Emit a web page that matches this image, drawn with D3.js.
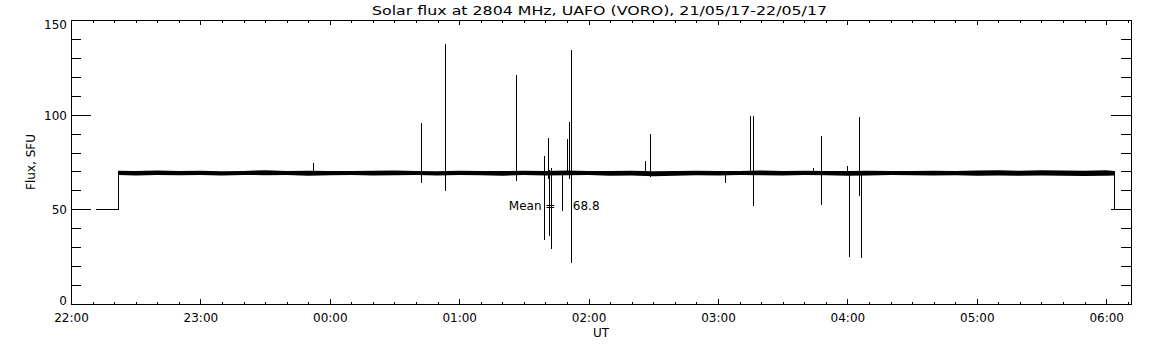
<!DOCTYPE html>
<html>
<head>
<meta charset="utf-8">
<script src="https://cdn.jsdelivr.net/npm/d3@7/dist/d3.min.js"></script>
<style>
  body { margin: 0; background: #fff; }
  text { font-family: "DejaVu Sans", sans-serif; fill: #000; }
</style>
</head>
<body>
<div id="chart"></div>
<script>
// readings of the 2804 MHz radiometer, times in UT
const titleText = "Solar flux at 2804 MHz, UAFO (VORO),  21/05/17-22/05/17";
const meanValue = 68.8;
const yTickLabels = [0, 50, 100, 150];

// receiver parked at 50 SFU before and after the session
const offLevel = 50;
const offPeriods = [["22:11:00", "22:21:50"], ["06:03:40", "06:11:30"]];

// quiet-sun band (upper / lower edge), sampled every 10 min
const bandHi = [70.4, 70.2, 70.5, 70.3, 70.4, 70.1, 70.3, 70.6, 70.2, 70.4,
                70.3, 70.2, 70.4, 70.5, 70.3, 70.1, 70.4, 70.3, 70.2, 70.4,
                70.3, 70.5, 70.2, 70.3, 70.4, 70.1, 70.3, 70.4, 70.2, 70.3,
                70.5, 70.3, 70.4, 70.2, 70.3, 70.4, 70.3, 70.2, 70.4, 70.3,
                70.5, 70.6, 70.4, 70.7, 70.5, 70.4, 70.6, 70.3];
const bandLo = [68.1, 67.9, 68.2, 68.0, 68.1, 67.9, 68.2, 68.0, 68.1, 67.8,
                68.0, 68.1, 67.9, 68.0, 68.2, 67.9, 68.1, 68.0, 67.8, 68.1,
                67.9, 68.0, 68.1, 67.7, 67.9, 67.5, 67.8, 68.0, 67.9, 68.1,
                68.0, 67.9, 68.1, 68.0, 67.8, 67.9, 68.1, 68.0, 67.9, 68.0,
                67.8, 67.9, 67.7, 67.9, 67.8, 67.6, 67.8, 67.9];

// spikes: time, lowest and highest reading
const spikeTimes = ["23:52:10", "00:42:20", "00:53:25", "01:26:20", "01:39:20",
                    "01:41:10", "01:41:40", "01:42:40", "01:47:40", "01:50:00",
                    "01:50:55", "01:51:50", "02:26:05", "02:28:30", "03:03:10",
                    "03:14:50", "03:16:00", "03:44:00", "03:47:50", "03:59:50",
                    "04:00:40", "04:05:35", "04:06:05"];
const spikeLo = [68, 64, 59.5, 65, 34, 66, 36, 29, 49, 68,
                 66, 21.5, 68, 67, 64, 68, 52, 68, 52.5, 68,
                 25, 57, 24.5];
const spikeHi = [74.7, 95.8, 137.5, 121, 78, 87.5, 71, 72, 70, 87,
                 96, 134, 75.5, 90, 70, 99.5, 99.5, 72, 88.5, 73,
                 70, 99, 70];

function t(s) {
    const h = +s.slice(0, 2);
    const day = h >= 12 ? "2017-05-21" : "2017-05-22";
    return new Date(day + "T" + s + "Z");
}

const width = 1152, height = 345;
const margin = {top: 20, right: 21, bottom: 41, left: 71};

const svg = d3.select("#chart").append("svg")
    .attr("width", width)
    .attr("height", height);

const x = d3.scaleUtc()
    .domain([t("22:00:00"), t("06:11:30")])
    .range([margin.left, width - margin.right]);

const y = d3.scaleLinear()
    .domain([0, 150])
    .range([height - margin.bottom, margin.top]);

const px = v => Math.round(v) + 0.5;

// band times: start of signal, every 10 min, end of signal
const bandTimes = [t(offPeriods[0][1])]
    .concat(d3.utcMinute.every(10).range(t("22:30:00"), t("06:00:01")))
    .concat([t(offPeriods[1][0])]);
const band = bandTimes.map((d, i) => ({time: d, hi: bandHi[i], lo: bandLo[i]}));

const plot = svg.append("g").attr("shape-rendering", "crispEdges");

// parked level segments and the steps into the band
offPeriods.forEach(p => {
    plot.append("line")
        .attr("x1", px(x(t(p[0])))).attr("x2", px(x(t(p[1]))))
        .attr("y1", px(y(offLevel))).attr("y2", px(y(offLevel)))
        .attr("stroke", "#000");
});
[band[0], band[band.length - 1]].forEach(d => {
    plot.append("line")
        .attr("x1", px(x(d.time))).attr("x2", px(x(d.time)))
        .attr("y1", px(y(offLevel))).attr("y2", y(d.hi))
        .attr("stroke", "#000");
});

svg.append("path")
    .datum(band)
    .attr("fill", "#000")
    .attr("d", d3.area()
        .x(d => x(d.time))
        .y0(d => y(d.lo))
        .y1(d => y(d.hi)));

plot.selectAll("line.spike")
    .data(spikeTimes.map((s, i) => ({time: t(s), lo: spikeLo[i], hi: spikeHi[i]})))
    .join("line")
    .attr("class", "spike")
    .attr("x1", d => px(x(d.time)))
    .attr("x2", d => px(x(d.time)))
    .attr("y1", d => y(d.lo))
    .attr("y2", d => y(d.hi))
    .attr("stroke", "#000");

// axes, all ticks pointing inward
const innerW = width - margin.left - margin.right;
const innerH = height - margin.top - margin.bottom;

function styleAxis(g) {
    g.select(".domain").remove();
    g.attr("shape-rendering", "crispEdges");
    g.selectAll(".tick line").attr("stroke", "#000");
    g.selectAll("text").style("font-family", "'DejaVu Sans', sans-serif").style("font-size", "12px");
}

const hours = d3.utcHour.every(1);
const tenMin = d3.utcMinute.every(10);

svg.append("g")
    .attr("transform", `translate(0,${height - margin.bottom})`)
    .call(d3.axisBottom(x).ticks(tenMin).tickSize(-2.5).tickFormat(""))
    .call(styleAxis);
svg.append("g")
    .attr("transform", `translate(0,${height - margin.bottom})`)
    .call(d3.axisBottom(x).ticks(hours).tickSize(-5).tickPadding(9).tickFormat(d3.utcFormat("%H:%M")))
    .call(styleAxis);
svg.append("g")
    .attr("transform", `translate(0,${margin.top})`)
    .call(d3.axisTop(x).ticks(tenMin).tickSize(-2.5).tickFormat(""))
    .call(styleAxis);
svg.append("g")
    .attr("transform", `translate(0,${margin.top})`)
    .call(d3.axisTop(x).ticks(hours).tickSize(-5).tickFormat(""))
    .call(styleAxis);

const minorY = d3.range(10, 150, 10).filter(v => v % 50 !== 0);
svg.append("g")
    .attr("transform", `translate(${margin.left},0)`)
    .call(d3.axisLeft(y).tickValues(minorY).tickSize(-10).tickFormat(""))
    .call(styleAxis);
svg.append("g")
    .attr("transform", `translate(${margin.left},0)`)
    .call(d3.axisLeft(y).tickValues(yTickLabels).tickSize(-20).tickPadding(4).tickFormat(d3.format("d")))
    .call(styleAxis)
    .call(g => g.selectAll("text")
        .attr("dy", null)
        .attr("y", d => d === 0 ? 0 : d === 150 ? 8 : 4.5));
svg.append("g")
    .attr("transform", `translate(${width - margin.right},0)`)
    .call(d3.axisRight(y).tickValues(minorY).tickSize(-10).tickFormat(""))
    .call(styleAxis);
svg.append("g")
    .attr("transform", `translate(${width - margin.right},0)`)
    .call(d3.axisRight(y).tickValues(yTickLabels).tickSize(-20).tickFormat(""))
    .call(styleAxis);

// frame
svg.append("rect")
    .attr("x", margin.left + 0.5)
    .attr("y", margin.top + 0.5)
    .attr("width", innerW)
    .attr("height", innerH)
    .attr("fill", "none")
    .attr("stroke", "#000")
    .attr("shape-rendering", "crispEdges");

// texts
svg.append("text")
    .attr("x", 372)
    .attr("y", 15)
    .attr("textLength", 455)
    .attr("lengthAdjust", "spacingAndGlyphs")
    .style("font-size", "12px")
    .text(titleText);

svg.append("text")
    .attr("transform", `translate(35,${margin.top + innerH / 2}) rotate(-90)`)
    .attr("text-anchor", "middle")
    .style("font-size", "12px")
    .text("Flux, SFU");

svg.append("text")
    .attr("x", margin.left + innerW / 2)
    .attr("y", 337)
    .attr("text-anchor", "middle")
    .style("font-size", "12px")
    .text("UT");

const meanX = x(t("01:23:00"));
svg.append("text")
    .attr("x", meanX)
    .attr("y", y(offLevel) + 1)
    .style("font-size", "12px")
    .text("Mean =");
svg.append("text")
    .attr("x", meanX + 64)
    .attr("y", y(offLevel) + 1)
    .style("font-size", "12px")
    .text(d3.format(".1f")(meanValue));
</script>
</body>
</html>
